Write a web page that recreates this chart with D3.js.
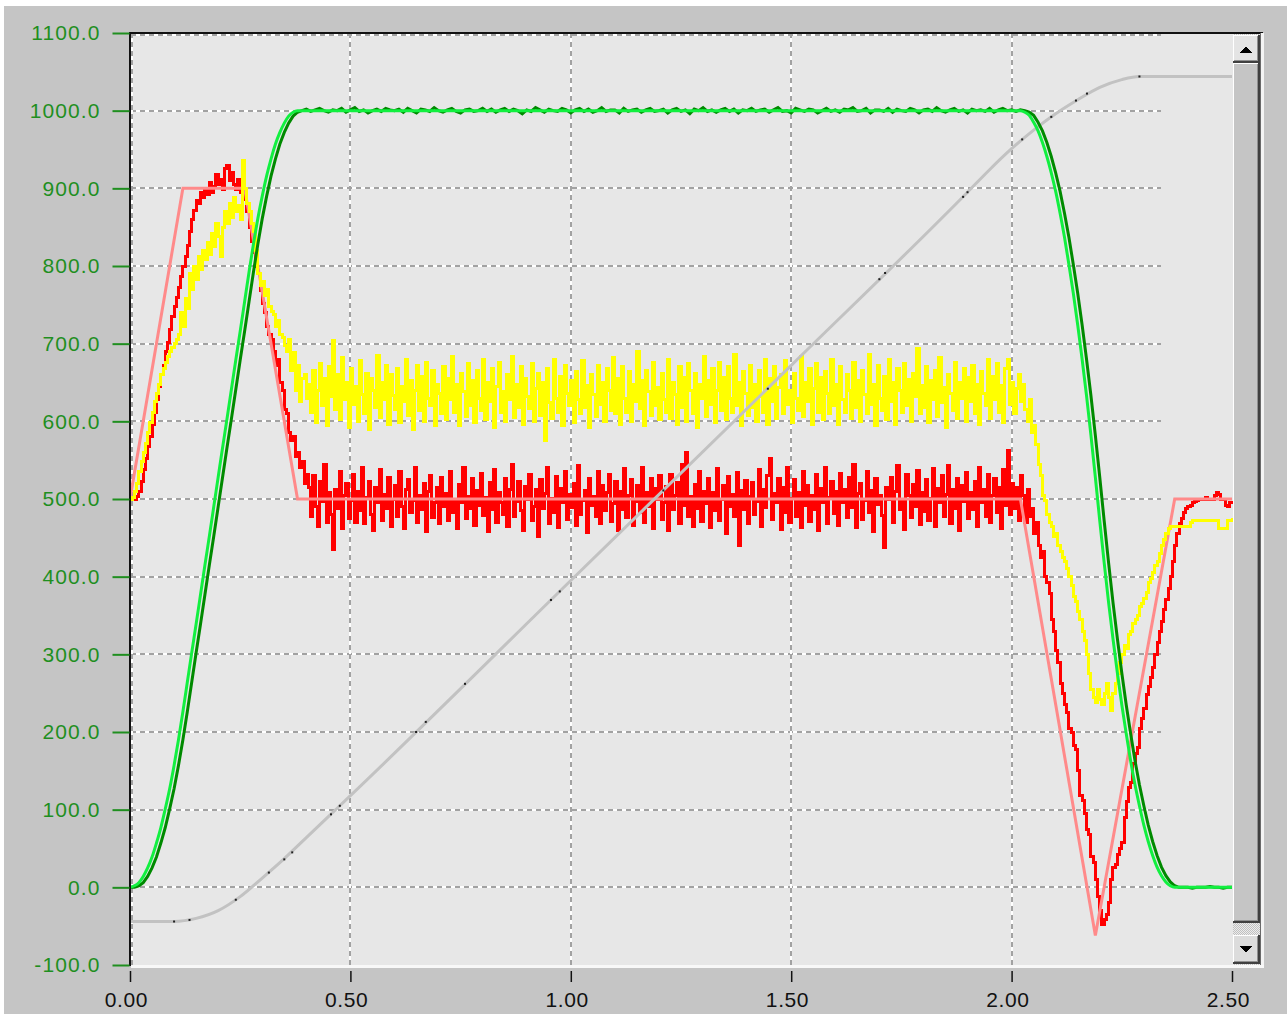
<!DOCTYPE html>
<html>
<head>
<meta charset="utf-8">
<script src="https://cdn.jsdelivr.net/npm/d3@7"></script>
<style>
html, body { margin: 0; padding: 0; background: #ffffff; overflow: hidden; }
svg { display: block; }
</style>
</head>
<body>
<svg id="chart" width="1287" height="1014"></svg>
<script>

// sample spacing of the recorded traces (seconds)
const dt = 0.005
const dtAct = 0.01

const xTicks = [0, 0.5, 1.0, 1.5, 2.0, 2.5]
const yTicks = [-100, 0, 100, 200, 300, 400, 500, 600, 700, 800, 900, 1000, 1100]
const xGrid = [0, 0.5, 1.0, 1.5, 2.0]
const yGrid = [0, 100, 200, 300, 400, 500, 600, 700, 800, 900, 1000, 1100]

// pink reference (trapezoid / triangle)
const pinkT = [0, 0.12, 0.26, 0.38, 2.02, 2.19, 2.37, 2.5]
const pinkV = [500, 900, 900, 500, 500, -62, 500, 500]

// grey trace
const grayT = [0, 0.10, 0.15, 0.20, 0.25, 0.30, 0.35, 0.40, 0.45, 0.50, 1.00, 1.50, 1.90, 1.95, 2.00, 2.05, 2.10, 2.15, 2.20, 2.25, 2.29, 2.50]
const grayV = [-44, -44, -40, -30, -12, 12, 37, 64, 91, 118, 395, 672, 895, 924, 951, 975, 996, 1014, 1030, 1040, 1044, 1044]

// black sample dots sitting on the grey trace
const dotT = [0.10, 0.135, 0.24, 0.315, 0.35, 0.368, 0.456, 0.476, 0.649, 0.671, 0.76, 0.955, 0.975, 1.21, 1.447, 1.70, 1.713, 1.89, 1.90, 2.024, 2.09, 2.146, 2.171, 2.29]
const dotV = [-44, -42, -16, 19, 36, 45, 94, 105, 200, 213, 262, 370, 381, 511, 642, 783, 791, 889, 895, 963, 992, 1013, 1022, 1044]

// bright green reference speed
const greenT = [0, 0.01, 0.02, 0.03, 0.04, 0.05, 0.06, 0.07, 0.08, 0.09,
  0.10, 0.11, 0.12, 0.13, 0.14, 0.15, 0.16, 0.17, 0.18, 0.19,
  0.20, 0.21, 0.22, 0.23, 0.24, 0.25, 0.26, 0.27, 0.28, 0.29,
  0.30, 0.31, 0.32, 0.33, 0.34, 0.35, 0.36, 0.37, 0.38,
  2.02, 2.03, 2.04, 2.05, 2.06, 2.07, 2.08, 2.09, 2.10, 2.11,
  2.12, 2.13, 2.14, 2.15, 2.16, 2.17, 2.18, 2.19, 2.20, 2.21,
  2.22, 2.23, 2.24, 2.25, 2.26, 2.27, 2.28, 2.29, 2.30, 2.31,
  2.32, 2.33, 2.34, 2.35, 2.36, 2.37, 2.50]
const greenV = [0, 2, 6, 14, 25, 39, 57, 77, 101, 127,
  157, 190, 226, 264, 302, 339, 377, 415, 452, 490,
  528, 566, 603, 641, 679, 716, 754, 792, 828, 861,
  890, 916, 938, 957, 972, 984, 993, 998, 1000,
  1000, 998, 994, 985, 974, 959, 941, 920, 896, 868,
  837, 802, 765, 724, 680, 633, 582, 528, 472, 418,
  367, 320, 276, 235, 198, 163, 132, 105, 80, 59,
  41, 26, 15, 7, 2, 0, 0]

// dark green measured speed, every 0.01 s
const darkGreenV = [0, 0, 2, 6, 14, 25, 39, 57, 77, 101,
  127, 157, 190, 226, 264, 302, 339, 377, 415, 452,
  490, 528, 566, 603, 641, 679, 716, 754, 792, 828,
  861, 890, 916, 938, 957, 972, 984, 993, 998, 1000,
  1002, 999, 1001, 1003, 1000, 998, 1001, 1000, 1003, 998, 1001, 1004, 999, 1001, 997, 1000, 1002, 999, 1003, 1001,
  1000, 1002, 998, 1003, 1000, 997, 1002, 1001, 999, 1004, 1000, 998, 1001, 1003, 999, 997, 1001, 1002, 999, 1000,
  1003, 999, 1002, 998, 1001, 1003, 999, 1002, 1000, 996, 1001, 999, 1004, 1001, 998, 1002, 1000, 999, 1003, 1001,
  997, 1001, 1003, 999, 1002, 998, 1000, 1004, 999, 1001, 1001, 997, 1003, 999, 1001, 1002, 998, 1001, 1003, 999,
  1000, 1002, 997, 1001, 1003, 999, 1001, 996, 1002, 1000, 1004, 999, 1001, 998, 1001, 1003, 999, 1002, 997, 1001,
  1000, 1003, 999, 1001, 1002, 998, 1001, 1004, 999, 1000, 997, 1003, 1001, 999, 1002, 1001, 997, 1000, 1003, 999,
  1001, 998, 1002, 1001, 1004, 999, 1000, 1003, 997, 1001, 1001, 999, 1003, 998, 1002, 1000, 999, 1003, 1001, 997,
  1001, 1002, 999, 1004, 1000, 998, 1001, 1003, 999, 1001, 997, 1002, 1000, 1001, 999, 1003, 998, 1001, 1003, 1000,
  1001, 999, 1001,
  1000, 998, 994, 985, 974, 959, 941, 920, 896, 868,
  837, 802, 765, 724, 680, 633, 582, 528, 472, 418,
  367, 320, 276, 235, 198, 163, 132, 105, 80, 59,
  41, 26, 15, 7, 2, 0,
  0, 0, -1, 0, 0, 0, 1, 0, 0, -1, 0, 0]

// red measured trace, every 0.005 s
const redV = [500, 500, 499, 503, 510, 522, 538, 552, 568, 580, 596, 612, 628, 645, 660, 672, 690, 702, 718, 735,
  748, 760, 772, 786, 800, 812, 826, 845, 860, 872, 884, 880, 895, 888, 900, 892, 908, 895, 902, 918,
  905, 912, 898, 925, 930, 910, 920, 905, 898, 912, 895, 902, 885, 870, 850, 832, 818, 800, 790, 768,
  752, 740, 722, 712, 705, 690, 672, 680, 650, 640, 615, 610, 585, 575, 580, 555, 560, 540, 548, 520,
  532,
  515, 478, 530, 490, 465, 522, 497, 545, 470, 508, 480, 435, 512, 488, 535, 462, 505, 520, 475, 498,
  532, 470, 510, 485, 540, 468, 502, 523, 480, 460, 515, 495, 538, 472, 506, 488, 528, 465, 500, 518,
  477, 536, 490, 462, 512, 525, 483, 498, 541, 470, 505, 487, 520, 458, 510, 530, 476, 495, 515, 468,
  528, 490, 507, 472, 535, 483, 500, 462, 519, 496, 540, 475, 503, 488, 526, 466, 511, 492, 533, 479,
  502, 458, 521, 487, 538, 470, 509, 495, 480, 527, 464, 512, 545, 478, 497, 523, 485, 460, 516, 500,
  531, 472, 490, 512, 452, 525, 488, 507, 540, 469, 501, 482, 529, 463, 514, 495, 536, 474, 506, 489,
  520, 466, 543, 480, 498, 511, 457, 526, 492, 503, 478, 535, 468, 517, 485, 509, 531, 471, 494, 522,
  459, 510, 487, 539, 476, 504, 525, 466, 497, 518, 482, 541, 470, 508, 490, 527, 462, 513, 499, 530,
  474, 495, 516, 460, 532, 486, 505, 521, 468, 544, 492, 560, 478, 503, 465, 519, 488, 536, 471, 510,
  494, 527, 463, 508, 485, 539, 472, 500, 518, 456, 529, 490, 506, 477, 534, 440, 511, 487, 524, 468,
  503, 521, 480, 497, 538, 465, 512, 489, 530, 552, 474, 507, 495, 526, 461, 515, 483, 540, 470, 501,
  525, 478, 509, 463, 536, 492, 518, 471, 504, 487, 531, 459, 514, 496, 541, 468, 502, 523, 481, 510,
  466, 533, 495, 512, 476, 528, 489, 545, 463, 507, 520, 474, 498, 535, 482, 511, 458, 526, 493, 504,
  479, 437, 515, 500, 528, 470, 510, 543, 486, 497, 461, 532, 505, 476, 519, 490, 537, 467, 508, 484,
  525, 472, 501, 539, 464, 514, 495, 530, 478, 506, 543, 469, 512, 488, 527, 460, 518, 497, 534, 475,
  509, 486, 523, 465, 540, 495, 512, 478, 531, 470, 504, 526, 483, 515, 462, 538, 491, 562, 480, 520,
  488, 515, 472, 530,
  505, 470, 512, 478, 488, 455, 470, 440, 425, 432, 400, 392, 378, 345, 330, 305,
  290, 262, 250, 235, 225, 205, 200, 182, 178, 150, 118, 112, 95, 75, 68, 40, 32, 10, -12, -30,
  -48, -42, -35, -20, 10, 26, 30, 42, 50, 58, 90, 110, 128, 135, 160, 172, 180, 205, 218, 230,
  248, 258, 270, 283, 300, 315, 330, 342, 358, 370, 385, 400, 420, 440, 455, 468, 475, 482, 488, 490,
  492, 495, 497, 498, 500, 500, 500, 502, 500, 500, 500, 504, 508, 506, 500, 500, 492, 490, 496, 498]

// yellow measured trace, every 0.005 s
const yellowV = [500, 502, 510, 520, 535, 548, 560, 572, 585, 598, 612, 625, 636, 648, 660, 668, 676, 684, 690, 695,
  700, 705, 712, 740, 722, 758, 745, 790, 770, 800, 782, 812, 795, 820, 808, 830, 815, 842, 825, 855,
  838, 812, 850, 870, 855, 880, 862, 888, 870, 878, 860, 936, 900, 880, 870, 855, 845, 820, 790, 775,
  780, 762, 770, 748, 742, 738, 722, 730, 712, 708, 698, 690, 705, 665, 688, 640, 672, 625, 655, 660,
  630,
  648, 612, 665, 598, 640, 675, 620, 655, 595, 670, 632, 704, 615, 660, 603, 682, 628, 650, 592, 668,
  622, 645, 600, 678, 635, 610, 662, 590, 655, 640, 618, 685, 605, 650, 628, 672, 596, 660, 633, 615,
  668, 598, 645, 625, 680, 608, 652, 590, 640, 672, 614, 658, 600, 676, 630, 620, 665, 594, 648, 636,
  610, 670, 602, 655, 628, 683, 612, 648, 595, 662, 638, 606, 674, 620, 652, 598, 666, 630, 614, 680,
  603, 650, 625, 668, 592, 645, 676, 612, 638, 600, 660, 628, 684, 605, 648, 618, 670, 596, 655, 632,
  616, 675, 600, 642, 662, 608, 650, 575, 668, 624, 604, 680, 630, 612, 658, 594, 672, 636, 620, 652,
  598, 664, 628, 610, 678, 618, 646, 592, 660, 634, 606, 672, 622, 650, 600, 668, 640, 614, 682, 610,
  655, 596, 670, 630, 612, 664, 600, 648, 626, 690, 616, 652, 594, 666, 638, 608, 676, 620, 644, 602,
  662, 628, 612, 680, 604, 650, 634, 596, 670, 618, 656, 600, 674, 640, 610, 662, 592, 648, 630, 684,
  606, 652, 622, 668, 598, 640, 676, 614, 656, 602, 670, 630, 612, 686, 620, 650, 594, 664, 636, 608,
  672, 618, 648, 600, 666, 632, 612, 680, 596, 655, 626, 670, 604, 644, 660, 610, 678, 622, 640, 598,
  662, 630, 614, 684, 606, 650, 626, 668, 596, 642, 674, 612, 656, 602, 664, 636, 610, 680, 620, 648,
  596, 670, 628, 612, 660, 640, 604, 676, 618, 652, 600, 666, 634, 610, 686, 622, 648, 594, 672, 630,
  614, 658, 602, 680, 626, 650, 596, 668, 640, 612, 674, 620, 654, 600, 662, 632, 694, 610, 646, 618,
  670, 598, 652, 628, 666, 606, 682, 624, 644, 592, 660, 636, 614, 676, 604, 650, 630, 668, 600, 656,
  626, 672, 610, 648, 596, 664, 636, 620, 680, 604, 658, 628, 674, 612, 646, 598, 668, 680, 622, 650,
  610, 642, 660, 625, 648,
  615, 600, 628, 585, 595, 570, 545, 530, 505, 498, 480, 470, 465, 452, 456,
  440, 432, 425, 420, 410, 400, 388, 375, 368, 355, 345, 330, 318, 300, 275, 255, 245, 238, 255, 242,
  236, 250, 262, 245, 228, 250, 262, 275, 290, 300, 312, 308, 325, 330, 340, 345, 350, 362, 365, 372,
  380, 392, 398, 405, 415, 420, 430, 440, 448, 455, 462, 465, 465, 465, 465, 465, 465, 465, 465, 465,
  470, 472, 472, 472, 472, 472, 472, 472, 472, 472, 472, 472, 472, 462, 462, 462, 462, 472, 472, 475]

// ---------------------------------------------------------------

const svg = d3.select('#chart')
const font = '"Liberation Sans", Arial, sans-serif'

const x = d3.scaleLinear().domain([0, 2.5]).range([130, 1232])
const y = d3.scaleLinear().domain([-100, 1100]).range([965, 33])

const gridRight = 1161

// plain hyphen for negatives, like the original display
function fmt(spec) {
  const f = d3.format(spec)
  return d => f(d).replace("\u2212", "-")
}

// window panel
svg.append("rect").attr("width", 1287).attr("height", 1014).attr("fill", "#ffffff")
svg.append("rect").attr("x", 4).attr("y", 6).attr("width", 1283).attr("height", 1008).attr("fill", "#c5c5c5")

// plot background
svg.append("rect")
  .attr("x", 130).attr("y", 33)
  .attr("width", 1262 - 130).attr("height", 966 - 33)
  .attr("fill", "#e7e7e7")

svg.append("clipPath").attr("id", "plotclip")
  .append("rect").attr("x", 130).attr("y", 33).attr("width", 1233 - 130).attr("height", 966 - 33)

// grid: white line with grey dashes on top
const grid = svg.append("g").attr("shape-rendering", "crispEdges")
yGrid.forEach(function (v) {
  const yy = Math.round(y(v)) + (v == 1100 ? 2 : 0)
  grid.append("line").attr("x1", 131).attr("x2", gridRight).attr("y1", yy).attr("y2", yy)
    .attr("stroke", "#ffffff").attr("stroke-width", 2)
  grid.append("line").attr("x1", 131).attr("x2", gridRight).attr("y1", yy).attr("y2", yy)
    .attr("stroke", "#a2a2a2").attr("stroke-width", 2).attr("stroke-dasharray", "5,4")
})
xGrid.forEach(function (t) {
  const xx = Math.round(x(t)) + (t == 0 ? 2 : 0)
  grid.append("line").attr("x1", xx).attr("x2", xx).attr("y1", 33).attr("y2", 965)
    .attr("stroke", "#ffffff").attr("stroke-width", 2)
  grid.append("line").attr("x1", xx).attr("x2", xx).attr("y1", 33).attr("y2", 965)
    .attr("stroke", "#a2a2a2").attr("stroke-width", 2).attr("stroke-dasharray", "5,4")
})

// series
const series = svg.append("g").attr("clip-path", "url(#plotclip)")

const line = d3.line().x(d => x(d[0])).y(d => y(d[1]))
const stepLine = d3.line().x(d => x(d[0])).y(d => y(d[1])).curve(d3.curveStepAfter)
const smoothLine = d3.line().x(d => x(d[0])).y(d => y(d[1])).curve(d3.curveMonotoneX)

const redPts = redV.map((v, i) => [i * dt, v])
const yellowPts = yellowV.map((v, i) => [i * dt, v])
const darkPts = darkGreenV.map((v, i) => [i * dtAct, v])
const greenPts = d3.zip(greenT, greenV)
const pinkPts = d3.zip(pinkT, pinkV)
const grayPts = d3.zip(grayT, grayV)

series.append("path").datum(redPts).attr("d", stepLine)
  .attr("fill", "none").attr("stroke", "#ff0000").attr("stroke-width", 3)
  .attr("shape-rendering", "crispEdges")

series.append("path").datum(pinkPts).attr("d", line)
  .attr("fill", "none").attr("stroke", "#ff8a8a").attr("stroke-width", 3)

series.append("path").datum(yellowPts).attr("d", stepLine)
  .attr("fill", "none").attr("stroke", "#ffff00").attr("stroke-width", 3)
  .attr("shape-rendering", "crispEdges")

series.append("path").datum(grayPts).attr("d", smoothLine)
  .attr("fill", "none").attr("stroke", "#c2c2c2").attr("stroke-width", 3)

series.selectAll("rect.dot")
  .data(d3.zip(dotT, dotV))
  .enter()
  .append("rect")
  .attr("class", "dot")
  .attr("x", d => x(d[0]) - 1).attr("y", d => y(d[1]) - 1)
  .attr("width", 2).attr("height", 2)
  .attr("fill", "#202020")

series.append("path").datum(darkPts).attr("d", line)
  .attr("fill", "none").attr("stroke", "#008a00").attr("stroke-width", 3)

series.append("path").datum(greenPts).attr("d", smoothLine)
  .attr("fill", "none").attr("stroke", "#12f040").attr("stroke-width", 3)

// scrollbar
const sb = svg.append("g").attr("shape-rendering", "crispEdges")
const defs = svg.append("defs")
const pat = defs.append("pattern").attr("id", "checker")
  .attr("width", 2).attr("height", 2).attr("patternUnits", "userSpaceOnUse")
pat.append("rect").attr("width", 2).attr("height", 2).attr("fill", "#ececec")
pat.append("rect").attr("width", 1).attr("height", 1).attr("fill", "#c0c0c0")
pat.append("rect").attr("x", 1).attr("y", 1).attr("width", 1).attr("height", 1).attr("fill", "#c0c0c0")

sb.append("rect").attr("x", 1233).attr("y", 34).attr("width", 28).attr("height", 931).attr("fill", "url(#checker)")

function button(y0, y1, face) {
  sb.append("rect").attr("x", 1233).attr("y", y0).attr("width", 27).attr("height", y1 - y0).attr("fill", face)
  sb.append("rect").attr("x", 1233).attr("y", y0).attr("width", 27).attr("height", 1).attr("fill", "#ffffff")
  sb.append("rect").attr("x", 1233).attr("y", y0).attr("width", 1).attr("height", y1 - y0).attr("fill", "#ffffff")
  sb.append("rect").attr("x", 1233).attr("y", y1 - 2).attr("width", 27).attr("height", 2).attr("fill", "#404040")
  sb.append("rect").attr("x", 1258).attr("y", y0).attr("width", 2).attr("height", y1 - y0).attr("fill", "#404040")
  sb.append("rect").attr("x", 1234).attr("y", y1 - 3).attr("width", 24).attr("height", 1).attr("fill", "#909090")
  sb.append("rect").attr("x", 1257).attr("y", y0 + 1).attr("width", 1).attr("height", y1 - y0 - 3).attr("fill", "#909090")
}
button(35, 63, "#e4e4e4")
button(63, 923, "#c5c5c5")
button(935, 964, "#dcdcdc")

sb.append("path").attr("d", "M1240,53 L1252,53 L1246,46 Z").attr("fill", "#000000")
sb.append("path").attr("d", "M1240,946 L1252,946 L1246,953 Z").attr("fill", "#000000")

// frame
const frame = svg.append("g").attr("shape-rendering", "crispEdges")
frame.append("rect").attr("x", 129).attr("y", 32).attr("width", 1263 - 129).attr("height", 2).attr("fill", "#111111")
frame.append("rect").attr("x", 129).attr("y", 32).attr("width", 2).attr("height", 966 - 32).attr("fill", "#111111")
frame.append("rect").attr("x", 1260).attr("y", 33).attr("width", 1).attr("height", 933).attr("fill", "#6a6a6a")
frame.append("rect").attr("x", 1261).attr("y", 33).attr("width", 3).attr("height", 935).attr("fill", "#f4f4f4")
frame.append("rect").attr("x", 131).attr("y", 965).attr("width", 1133).attr("height", 3).attr("fill", "#f8f8f8")

// y axis
const yAxis = svg.append("g")
  .attr("transform", "translate(129.5,0)")
  .call(d3.axisLeft(y).tickValues(yTicks).tickFormat(fmt(".1f")).tickSize(17).tickPadding(12))
yAxis.select(".domain").remove()
yAxis.selectAll("line").attr("stroke", "#1f8f1f").attr("stroke-width", 2)
yAxis.selectAll("text")
  .attr("fill", "#1f8f1f")
  .style("font-family", font)
  .style("font-size", "21px")
  .style("letter-spacing", "1.1px")

// x axis
const xAxis = svg.append("g")
  .attr("transform", "translate(0,971)")
  .call(d3.axisBottom(x).tickValues(xTicks).tickFormat(fmt(".2f")).tickSize(11).tickPadding(10))
xAxis.select(".domain").remove()
xAxis.selectAll("line").attr("stroke", "#111111").attr("stroke-width", 1.5)
xAxis.selectAll("text")
  .attr("fill", "#111111")
  .attr("dx", "-0.2em")
  .style("font-family", font)
  .style("font-size", "21px")
  .style("letter-spacing", "0.6px")

</script>
</body>
</html>
